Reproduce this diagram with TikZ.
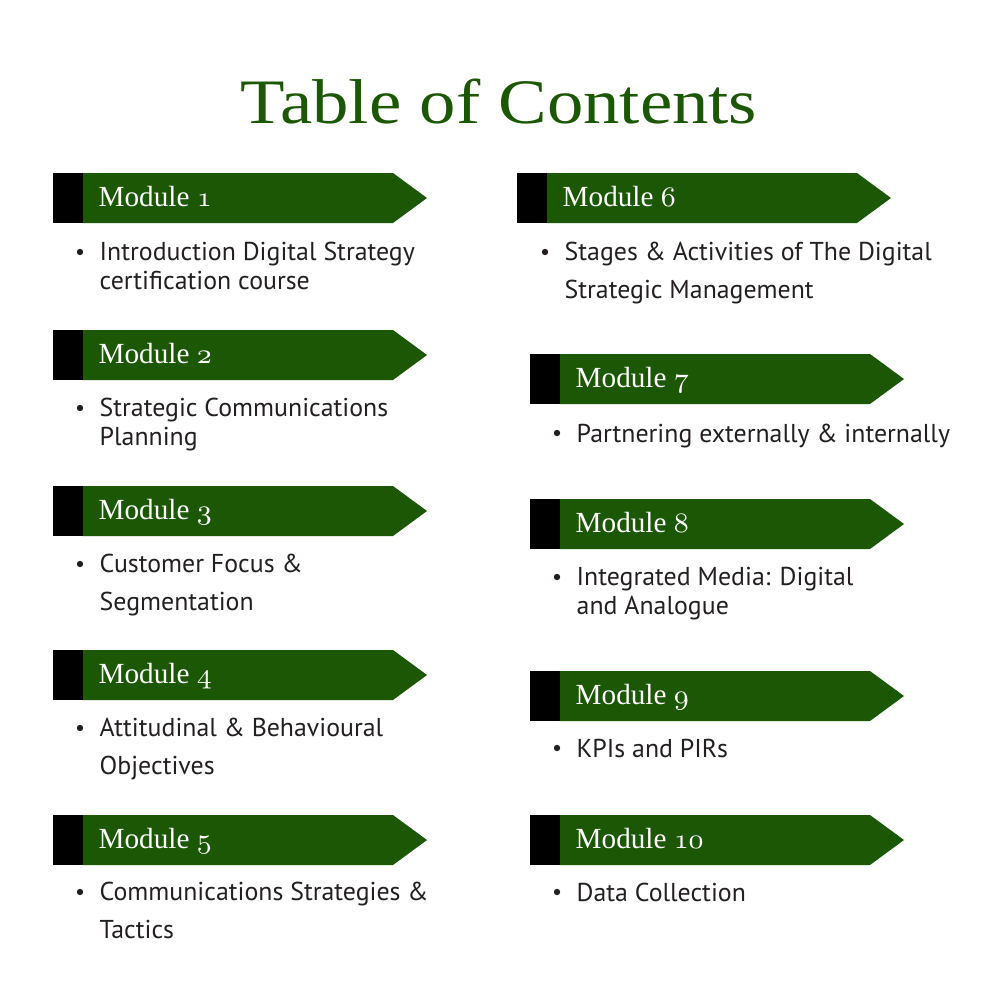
\documentclass[tikz,border=0pt]{standalone}
\usepackage{fontspec}
\setmainfont{Liberation Serif}
\newfontfamily\itemfamily{PT Sans}
\definecolor{tocgreen}{RGB}{27,87,5}
\definecolor{tocgrey}{RGB}{35,31,32}
\newcommand{\osf}[1]{{\usefont{OML}{cmm}{m}{it}#1}}
\tikzset{
  modlabel/.style={anchor=base west, inner sep=0pt, text=white, font=\fontsize{8.3}{9}\selectfont},
  itemtext/.style={anchor=base west, inner sep=0pt, align=left, text=tocgrey, font=\itemfamily\fontsize{7.35}{7.97}\selectfont},
  dot/.style={fill=tocgrey}
}
\begin{document}
\begin{tikzpicture}[x=0.01cm,y=-0.01cm]
\useasboundingbox (0,0) rectangle (1000,1000);

\node[text=tocgreen, font=\fontsize{18}{20}\selectfont, anchor=base, inner sep=0pt, xscale=1.15] (title) at (499,123) {Table of Contents};

\foreach \x/\y/\n in {53/173/1, 53/330/2, 53/486/3, 53/650/4, 53/815/5, 517/173/6, 530/354/7, 530/499/8, 530/671/9, 530/815/10} {
	\fill[tocgreen] (\x+30,\y) -- (\x+340,\y) -- (\x+374,\y+25) -- (\x+340,\y+50) -- (\x+30,\y+50) -- cycle;
	\fill[black] (\x,\y) rectangle (\x+30,\y+50);
	\node[modlabel] (mod\n) at (\x+45,\y+33) {Module \osf{\n}};
}

\node[itemtext] (item1) at (99,289) {Introduction Digital Strategy\\certification course};
\node[itemtext] (item2) at (99,445) {Strategic Communications\\Planning};
\node[itemtext] (item3) at (99,610) {Customer Focus \&\\[2.56pt]Segmentation};
\node[itemtext] (item4) at (99,774) {Attitudinal \& Behavioural\\[2.56pt]Objectives};
\node[itemtext] (item5) at (99,938) {Communications Strategies \&\\[2.56pt]Tactics};
\node[itemtext] (item6) at (564,298) {Stages \& Activities of The Digital\\[2.56pt]Strategic Management};
\node[itemtext] (item7) at (576,442) {Partnering externally \& internally};
\node[itemtext] (item8) at (576,614) {Integrated Media: Digital\\and Analogue};
\node[itemtext] (item9) at (576,757) {KPIs and PIRs};
\node[itemtext] (item10) at (576,901) {Data Collection};

\foreach \n/\lead in {1/28, 2/28, 3/37, 4/37, 5/37, 6/37, 7/0, 8/28, 9/0, 10/0} {
	\fill[dot] ([shift={(-19,-9-\lead)}]item\n.base west) circle[radius=0.032cm];
}
\end{tikzpicture}
\end{document}
